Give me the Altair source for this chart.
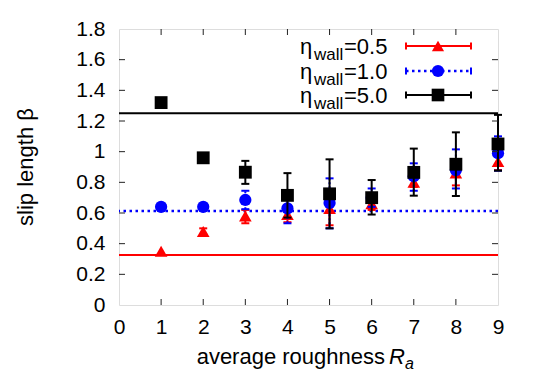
import altair as alt
import pandas as pd

# ---------------- data ----------------
x_vals = [1, 2, 3, 4, 5, 6, 7, 8, 9]

red_y = [0.35, 0.48, 0.58, 0.59, 0.63, 0.66, 0.80, 0.86, 0.935]
red_lo = [0.35, 0.46, 0.533, 0.54, 0.52, 0.62, 0.77, 0.78, 0.88]
red_hi = [0.35, 0.50, 0.62, 0.64, 0.74, 0.70, 0.83, 0.94, 0.98]

blue_y = [0.64, 0.64, 0.685, 0.63, 0.665, 0.70, 0.84, 0.88, 0.99]
blue_lo = [0.64, 0.62, 0.625, 0.533, 0.50, 0.64, 0.745, 0.76, 0.876]
blue_hi = [0.64, 0.66, 0.745, 0.72, 0.826, 0.76, 0.924, 1.015, 1.10]

black_y = [1.32, 0.96, 0.866, 0.715, 0.725, 0.70, 0.865, 0.918, 1.05]
black_lo = [1.32, 0.96, 0.79, 0.57, 0.50, 0.59, 0.713, 0.711, 0.876]
black_hi = [1.32, 0.96, 0.94, 0.86, 0.95, 0.815, 1.02, 1.126, 1.24]

ref_values = [0.326, 0.613, 1.25]     # red, blue, black horizontal lines
labels = ["0.5", "1.0", "5.0"]

x_ticks = [0, 1, 2, 3, 4, 5, 6, 7, 8, 9]
y_ticks = [0, 0.2, 0.4, 0.6, 0.8, 1.0, 1.2, 1.4, 1.6, 1.8]

# ---------------- layout ----------------
W, H = 379, 276
FONT = "Liberation Sans"
RED, BLUE, BLACK = "#ff0000", "#0000ff", "#000000"

xs = alt.Scale(domain=[0, 9], nice=False, zero=False)
ys = alt.Scale(domain=[0, 1.8], nice=False, zero=False)

X_axis = alt.Axis(values=x_ticks, format="d", title=None, ticks=False, domain=False,
                  grid=False, labelFontSize=21, labelFont=FONT, labelColor="black",
                  labelPadding=11, labelFlush=False, labelOverlap=False)
Y_axis = alt.Axis(values=y_ticks, format="~g", title=None, ticks=False, domain=False,
                  grid=False, labelFontSize=21, labelFont=FONT, labelColor="black",
                  labelPadding=14, labelFlush=False, labelOverlap=False)


def X(f):
    return alt.X(f, scale=xs, axis=X_axis)


def Y(f):
    return alt.Y(f, scale=ys, axis=Y_axis)


def series_layers(yv, lo, hi, color, shape, size, dash=None):
    df = pd.DataFrame({"x": x_vals, "y": yv, "lo": lo, "hi": hi})
    eb = df[df["hi"] > df["lo"]]
    rkw = dict(color=color, strokeWidth=2)
    if dash:
        rkw["strokeDash"] = dash
    bars = alt.Chart(eb).mark_rule(**rkw).encode(x=X("x:Q"), y=Y("lo:Q"), y2="hi:Q")
    cap_lo = alt.Chart(eb).mark_rule(color=color, strokeWidth=2, xOffset=-4, x2Offset=4).encode(
        x=X("x:Q"), x2="x:Q", y=Y("lo:Q"))
    cap_hi = alt.Chart(eb).mark_rule(color=color, strokeWidth=2, xOffset=-4, x2Offset=4).encode(
        x=X("x:Q"), x2="x:Q", y=Y("hi:Q"))
    pts = alt.Chart(df).mark_point(shape=shape, filled=True, size=size, color=color,
                                   opacity=1, strokeWidth=0).encode(x=X("x:Q"), y=Y("y:Q"))
    return [bars, cap_lo, cap_hi, pts]


ref_df = pd.DataFrame({"y": ref_values, "c": ["red", "blue", "black"]})
ref_red = alt.Chart(ref_df[ref_df.c == "red"]).mark_rule(color=RED, strokeWidth=2).encode(
    y=Y("y:Q"))
ref_blue = alt.Chart(ref_df[ref_df.c == "blue"]).mark_rule(
    color=BLUE, strokeWidth=2.5, strokeDash=[2.5, 3.5]).encode(y=Y("y:Q"))
ref_black = alt.Chart(ref_df[ref_df.c == "black"]).mark_rule(color=BLACK, strokeWidth=2).encode(
    y=Y("y:Q"))

# base layer carrying axes
base = alt.Chart(pd.DataFrame({"x": x_ticks[:1], "y": y_ticks[:1]})).mark_point(opacity=0).encode(
    x=X("x:Q"), y=Y("y:Q"))

# inward ticks on all four sides
tx = pd.DataFrame({"x": x_ticks[1:-1]})
ty = pd.DataFrame({"y": y_ticks[1:-1]})
tick_col = "#222222"
t_bot = alt.Chart(tx).mark_rule(color=tick_col, strokeWidth=1).encode(
    x=X("x:Q"), y=alt.value(H), y2=alt.value(H - 6))
t_top = alt.Chart(tx).mark_rule(color=tick_col, strokeWidth=1).encode(
    x=X("x:Q"), y=alt.value(0), y2=alt.value(6))
t_left = alt.Chart(ty).mark_rule(color=tick_col, strokeWidth=1).encode(
    y=Y("y:Q"), x=alt.value(0), x2=alt.value(6))
t_right = alt.Chart(ty).mark_rule(color=tick_col, strokeWidth=1).encode(
    y=Y("y:Q"), x=alt.value(W), x2=alt.value(W - 6))

one = pd.DataFrame({"a": [0]})


def txt(s, x, y, size=20, align="left", baseline="alphabetic", style="normal", angle=0):
    kw = dict(text=s, font=FONT, fontSize=size, align=align, baseline=baseline,
              fontStyle=style, color="black")
    if angle:
        kw["angle"] = angle
    return alt.Chart(one).mark_text(**kw).encode(x=alt.value(x), y=alt.value(y))


# legend
legend = []
rows = [(17, RED, "triangle-up", None), (42, BLUE, "circle", [2.5, 3.5]), (66, BLACK, "square", None)]
sizes = {"triangle-up": 150, "circle": 150, "square": 160}
for (ry, col, shp, dash), lab in zip(rows, labels):
    lkw = dict(color=col, strokeWidth=2)
    if dash:
        lkw["strokeDash"] = dash
        lkw["strokeWidth"] = 2.5
    legend.append(alt.Chart(one).mark_rule(**lkw).encode(
        x=alt.value(287), x2=alt.value(352), y=alt.value(ry)))
    for cx in (287, 352):
        legend.append(alt.Chart(one).mark_rule(color=col, strokeWidth=2).encode(
            x=alt.value(cx), y=alt.value(ry - 3.5), y2=alt.value(ry + 3.5)))
    legend.append(alt.Chart(one).mark_point(shape=shp, filled=True, size=sizes[shp],
                                            color=col, opacity=1, strokeWidth=0).encode(
        x=alt.value(319), y=alt.value(ry)))
    legend.append(txt("η", 181, ry + 8, size=22))
    legend.append(txt("wall", 195, ry + 14, size=17))
    legend.append(txt("=" + lab, 225, ry + 8, size=22))

# axis titles
titles = [
    txt("average roughness", 266, 335, size=22, align="right"),
    txt("R", 270, 335, size=22, style="italic"),
    txt("a", 286, 340, size=16, style="italic"),
    txt("slip length β", -93, 138, size=22, align="center", baseline="middle", angle=270),
]

layers = [base, ref_red, ref_blue, ref_black]
layers += series_layers(red_y, red_lo, red_hi, RED, "triangle-up", 160)
layers += series_layers(blue_y, blue_lo, blue_hi, BLUE, "circle", 150, dash=[2, 2])
layers += series_layers(black_y, black_lo, black_hi, BLACK, "square", 165)
layers += [t_bot, t_top, t_left, t_right]
layers += legend + titles

chart = alt.layer(*layers).properties(
    width=W, height=H,
    autosize=alt.AutoSizeParams(type="none"),
    padding={"left": 111, "top": 21, "right": 32, "bottom": 72},
).configure_view(stroke="#222222", strokeWidth=1.2).configure_axis(
    labelOverlap=False).configure(background="white")

chart.save("out.html", embed_options={"renderer": "svg", "actions": False})
